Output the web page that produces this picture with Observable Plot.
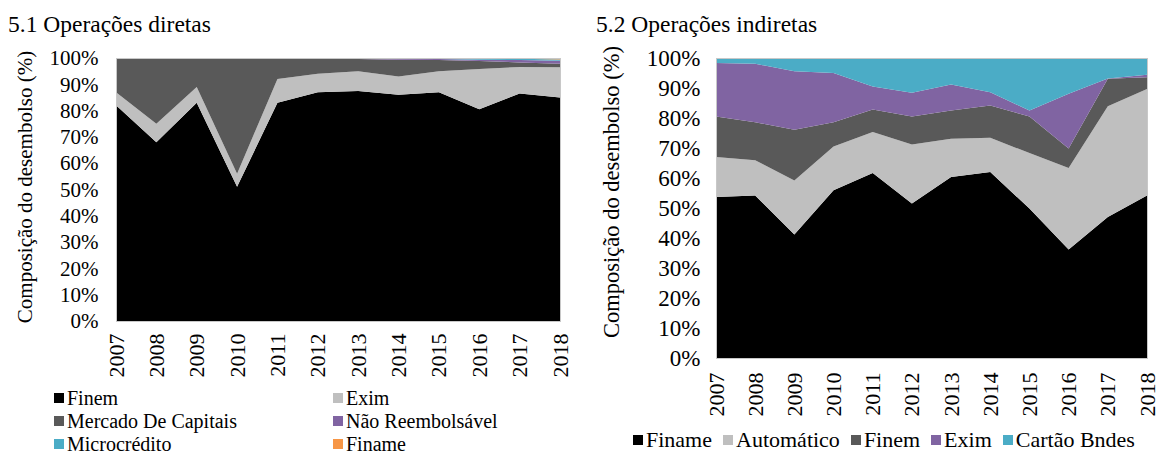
<!DOCTYPE html>
<html>
<head>
<meta charset="utf-8">
<script src="https://cdn.jsdelivr.net/npm/d3@7"></script>
<script src="https://cdn.jsdelivr.net/npm/@observablehq/plot@0.6"></script>
<style>
  html, body { margin: 0; padding: 0; background: #fff; }
  body { width: 1160px; height: 456px; position: relative; overflow: hidden; font-family: "Liberation Serif", "Times New Roman", serif; color: #000; }
  .title { position: absolute; font-size: 23.5px; line-height: 1; white-space: nowrap; }
  .chart { position: absolute; }
  .chart svg { overflow: visible; }
  .chart g[aria-label^="x-axis"] text { font-size: 22px; }
  .ylab { position: absolute; white-space: nowrap; line-height: 1; transform: translate(-50%, -50%) rotate(-90deg); }
  .leg { position: absolute; display: flex; align-items: center; white-space: nowrap; line-height: 1; transform: translateY(-50%); }
  .leg .sw { display: inline-block; width: 10px; height: 10px; margin-right: 3px; flex: none; }
</style>
</head>
<body>
<div class="title" style="left:8px; top:13px;">5.1 Operações diretas</div>
<div class="title" style="left:596px; top:13px;">5.2 Operações indiretas</div>
<div id="left" class="chart" style="left:0px; top:40px;"></div>
<div id="right" class="chart" style="left:580px; top:40px;"></div>
<div class="ylab" id="ylabL" style="left:25px; top:187px; font-size:21px;"></div>
<div class="ylab" id="ylabR" style="left:612px; top:192px; font-size:22.5px;"></div>
<div id="legLeft"></div>
<div id="legRight"></div>
<script>
// ---------- data ----------
const years = [2007, 2008, 2009, 2010, 2011, 2012, 2013, 2014, 2015, 2016, 2017, 2018];
const yTicks = [0, 0.1, 0.2, 0.3, 0.4, 0.5, 0.6, 0.7, 0.8, 0.9, 1];

// 5.1 Operações diretas (share of disbursement, %)
const leftSeries = ["Finem", "Exim", "Mercado De Capitais", "Não Reembolsável", "Microcrédito", "Finame"];
const leftColors = ["#000000", "#bfbfbf", "#595959", "#8064a2", "#4bacc6", "#f79646"];
const dirFinem    = [82, 68, 83, 51, 83, 87, 87.5, 86, 87, 80.5, 86.5, 85];
const dirExim     = [5, 7, 6, 5, 9, 7, 7.5, 7, 8, 15.3, 10.1, 11.5];
const dirMercado  = [12.9, 24.9, 10.8, 43.8, 7.7, 5.7, 4.6, 6.3, 4.2, 3.1, 1.7, 1.3];
const dirNaoReemb = [0.1, 0.1, 0.2, 0.2, 0.25, 0.2, 0.3, 0.5, 0.4, 0.4, 0.9, 1.2];
const dirMicro    = [0, 0, 0, 0, 0.05, 0.1, 0.1, 0.2, 0.4, 0.5, 0.5, 0.4];
const dirFiname   = [0, 0, 0, 0, 0, 0, 0, 0, 0, 0.2, 0.3, 0.6];

// 5.2 Operações indiretas (share of disbursement, %)
const rightSeries = ["Finame", "Automático", "Finem", "Exim", "Cartão Bndes"];
const rightColors = ["#000000", "#bfbfbf", "#595959", "#8064a2", "#4bacc6"];
const indFiname     = [53.7, 54.2, 41.2, 55.9, 61.7, 51.5, 60.3, 62.0, 49.8, 36.2, 47.0, 54.2];
const indAutomatico = [13.3, 11.7, 18.0, 14.6, 13.6, 19.7, 12.8, 11.4, 18.5, 27.1, 36.9, 35.5];
const indFinem      = [13.5, 12.7, 16.9, 8.1, 7.5, 9.3, 9.4, 10.8, 12.2, 6.5, 9.2, 3.9];
const indExim       = [17.8, 19.5, 19.5, 16.4, 7.7, 7.9, 8.7, 4.4, 2.0, 18.3, 0.1, 0.8];
const indCartao     = [1.7, 1.9, 4.4, 5.0, 9.5, 11.6, 8.8, 11.4, 17.5, 11.9, 6.8, 5.6];

const yLabel = "Composição do desembolso (%)";

// ---------- build tables ----------
function rows(names, arrays) {
  const out = [];
  names.forEach((s, i) => years.forEach((yr, j) => out.push({year: yr, series: s, value: arrays[i][j]})));
  return out;
}
const leftRows = rows(leftSeries, [dirFinem, dirExim, dirMercado, dirNaoReemb, dirMicro, dirFiname]);
const rightRows = rows(rightSeries, [indFiname, indAutomatico, indFinem, indExim, indCartao]);

function chart(data, names, colors, opts) {
  return Plot.plot({
    width: 580,
    height: opts.height,
    marginLeft: opts.ml, marginRight: opts.mr, marginTop: opts.mt, marginBottom: opts.mb,
    style: {fontFamily: '"Liberation Serif", "Times New Roman", serif', fontSize: opts.fs + "px", color: "#000", background: "transparent", overflow: "visible"},
    x: {type: "linear", domain: [2007, 2018], ticks: years, tickFormat: d => String(d), tickRotate: -90, tickSize: 0, tickPadding: opts.xpad, label: null},
    y: {domain: [0, 1], ticks: yTicks, tickFormat: d3.format(".0%"), tickSize: 0, tickPadding: opts.ypad, label: null},
    color: {domain: names, range: colors},
    marks: [
      Plot.areaY(data, Plot.stackY({x: "year", y: "value", fill: "series", order: names, offset: "normalize"})),
      Plot.frame({stroke: "#c8c8c8"})
    ]
  });
}

document.getElementById("left").append(chart(leftRows, leftSeries, leftColors,
  {height: 345, ml: 116, mr: 20, mt: 18, mb: 64, fs: 21, xpad: 12, ypad: 18}));
document.getElementById("right").append(chart(rightRows, rightSeries, rightColors,
  {height: 385, ml: 136, mr: 13, mt: 18, mb: 67, fs: 23, xpad: 14, ypad: 16}));
document.getElementById("ylabL").textContent = yLabel;
document.getElementById("ylabR").textContent = yLabel;

// ---------- legends ----------
const legLeft = document.getElementById("legLeft");
const leftPos = [[54, 398], [333, 398], [54, 421], [333, 421], [54, 444], [333, 444]];
leftSeries.forEach((s, i) => {
  const d = document.createElement("div");
  d.className = "leg";
  d.style.left = leftPos[i][0] + "px";
  d.style.top = leftPos[i][1] + "px";
  d.style.fontSize = "20px";
  d.innerHTML = `<span class="sw" style="background:${leftColors[i]}"></span><span></span>`;
  d.lastChild.textContent = s;
  legLeft.append(d);
});
const legRight = document.getElementById("legRight");
const rl = document.createElement("div");
rl.className = "leg";
rl.style.left = "633px";
rl.style.top = "440px";
rl.style.fontSize = "22px";
rightSeries.forEach((s, i) => {
  const item = document.createElement("span");
  item.style.display = "inline-flex";
  item.style.alignItems = "center";
  item.style.marginRight = i < rightSeries.length - 1 ? "11px" : "0";
  item.innerHTML = `<span class="sw" style="background:${rightColors[i]}"></span><span></span>`;
  item.lastChild.textContent = s;
  rl.append(item);
});
legRight.append(rl);
</script>
</body>
</html>
